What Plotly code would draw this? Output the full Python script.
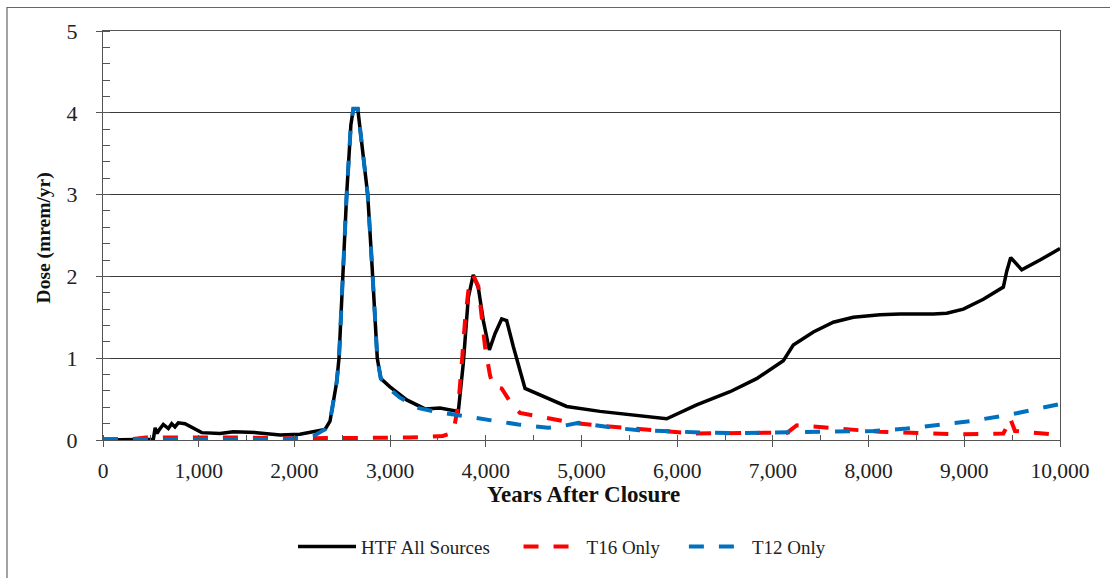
import plotly.graph_objects as go

# ---- data ----
htf_years = [0, 400, 510, 526, 545, 565, 590, 630, 683, 718, 752, 787, 857, 944,
             1031, 1223, 1362, 1606, 1850, 2058, 2200, 2320, 2372, 2407, 2442, 2466,
             2504, 2546, 2590, 2616, 2662, 2690, 2766, 2818, 2866, 2903, 2999, 3173,
             3365, 3521, 3678, 3713, 3765, 3817, 3869, 3922, 3974, 4037, 4096, 4166,
             4218, 4288, 4410, 4566, 4845, 5193, 5507, 5890, 6203, 6552, 6830, 7109,
             7213, 7423, 7631, 7840, 8119, 8328, 8676, 8816, 8990, 9199, 9408, 9443,
             9485, 9600, 9791, 10000]
htf_dose = [0, 0, 0.005, 0.01, 0.15, 0.08, 0.13, 0.19, 0.14, 0.2, 0.16, 0.21, 0.2, 0.14,
            0.09, 0.08, 0.1, 0.09, 0.06, 0.07, 0.1, 0.13, 0.23, 0.47, 0.71, 1.0,
            2.0, 3.0, 3.85, 4.05, 4.05, 3.75, 3.0, 2.0, 1.0, 0.75, 0.65, 0.49,
            0.38, 0.39, 0.36, 0.35, 0.94, 1.74, 2.02, 1.86, 1.46, 1.1, 1.3, 1.48,
            1.46, 1.14, 0.63, 0.55, 0.41, 0.35, 0.31, 0.26, 0.43, 0.59, 0.75, 0.97,
            1.16, 1.32, 1.44, 1.5, 1.53, 1.54, 1.54, 1.55, 1.6, 1.72, 1.87, 2.06,
            2.23, 2.08, 2.2, 2.34]

t16_years = [0, 300, 450, 550, 700, 850, 1000, 1500, 2000, 2500, 3000, 3200, 3400,
             3550, 3660, 3713, 3747, 3783, 3817, 3869, 3922, 3957, 3992, 4044, 4079,
             4166, 4253, 4357, 4531, 4705, 4914, 5227, 5600, 5950, 6203, 6725, 7150,
             7250, 7701, 8119, 8641, 8990, 9408, 9460, 9478, 9530, 10000]
t16_dose = [0.01, 0.01, 0.03, 0.03, 0.04, 0.04, 0.03, 0.03, 0.02, 0.02, 0.02, 0.03, 0.04,
            0.05, 0.09, 0.43, 0.9, 1.46, 1.82, 2.01, 1.88, 1.54, 1.14, 0.79, 0.65,
            0.63, 0.47, 0.33, 0.29, 0.25, 0.21, 0.17, 0.13, 0.1, 0.08, 0.08, 0.09,
            0.18, 0.14, 0.10, 0.08, 0.07, 0.08, 0.2, 0.27, 0.11, 0.06]

t12_years = [0, 1000, 1900, 2093, 2200, 2320, 2372, 2407, 2442, 2466, 2504, 2546, 2590,
             2616, 2662, 2690, 2766, 2818, 2866, 2903, 3000, 3100, 3300, 3500, 3680,
             3850, 4030, 4340, 4650, 4800, 4970, 5150, 5330, 5600, 5950, 6300, 6690,
             7074, 7597, 8050, 8397, 8816, 9060, 9478, 9756, 10000]
t12_dose = [0.01, 0.01, 0.01, 0.03, 0.05, 0.13, 0.23, 0.47, 0.71, 1.0, 2.0, 3.0, 3.85,
            4.05, 4.05, 3.75, 3.0, 2.0, 1.0, 0.75, 0.62, 0.52, 0.39, 0.34, 0.31,
            0.27, 0.24, 0.19, 0.15, 0.17, 0.21, 0.18, 0.15, 0.12, 0.1, 0.09, 0.085,
            0.09, 0.1, 0.11, 0.14, 0.2, 0.23, 0.31, 0.38, 0.44]

series_names = ["HTF All Sources", "T16 Only", "T12 Only"]
x_title = "Years After Closure"
y_title = "Dose (mrem/yr)"

FONT = "Liberation Serif"
NB = "&nbsp;"

fig = go.Figure()
fig.add_trace(go.Scatter(x=htf_years, y=htf_dose, mode="lines", name=series_names[0] + NB * 5,
                         line=dict(color="black", width=3.5)))
fig.add_trace(go.Scatter(x=t16_years, y=t16_dose, mode="lines", name=series_names[1] + NB * 4,
                         line=dict(color="#ff0000", width=4, dash="15px,15px")))
fig.add_trace(go.Scatter(x=t12_years, y=t12_dose, mode="lines", name=series_names[2],
                         line=dict(color="#0070c0", width=4, dash="15px,15px")))

W, H = 1110, 578
L, T = 103, 31
R = W - L - 957
B = H - T - 418
pw, ph = W - L - R, H - T - B

def px(xp):
    return (xp - L) / pw

def py(yp):
    return (H - B - yp) / ph

fig.update_layout(
    width=W, height=H,
    margin=dict(l=L, r=R, t=T, b=B, pad=0),
    paper_bgcolor="white", plot_bgcolor="white",
    font=dict(family=FONT, color="#222"),
    showlegend=True,
    legend=dict(orientation="h", x=px(293), xanchor="left", y=py(558), yanchor="middle",
                font=dict(family=FONT, size=19, color="#222"), bgcolor="rgba(0,0,0,0)",
                itemwidth=58, tracegroupgap=0),
    xaxis=dict(range=[0, 10000], dtick=1000, tickformat=",", showgrid=False,
               zeroline=False, showline=True, linecolor="#555", linewidth=1.2,
               mirror=True, ticks="outside", ticklen=6, tickcolor="#555",
               tickfont=dict(family=FONT, size=21.5, color="#222"),
               ticklabelstandoff=5,
               minor=dict(dtick=500, ticks="inside", ticklen=5, tickcolor="#555"),
               fixedrange=True),
    yaxis=dict(range=[0, 5], dtick=1, showgrid=True, gridcolor="#3a3a3a", gridwidth=1,
               zeroline=False, showline=True, linecolor="#555", linewidth=1.2,
               mirror=True, ticks="outside", ticklen=6, tickcolor="#555",
               tickfont=dict(family=FONT, size=22, color="#222"),
               ticklabelstandoff=14,
               minor=dict(dtick=0.2, ticks="inside", ticklen=7, tickcolor="#555",
                          showgrid=False),
               fixedrange=True),
    annotations=[
        dict(text="<b>" + x_title + "</b>", xref="paper", yref="paper",
             x=px(583), y=py(505), xanchor="center", yanchor="middle", showarrow=False,
             font=dict(family=FONT, size=23, color="#111")),
        dict(text="<b>" + y_title + "</b>", xref="paper", yref="paper",
             x=px(44), y=py(243), xanchor="center", yanchor="middle", showarrow=False,
             textangle=-90, font=dict(family=FONT, size=19.5, color="#111")),
    ],
    shapes=[
        dict(type="rect", xref="paper", yref="paper",
             x0=px(7), x1=px(1140), y0=py(620), y1=py(7),
             line=dict(color="#666", width=1.2), fillcolor="rgba(0,0,0,0)", layer="below"),
    ],
)

fig.write_html(
    "out.html",
    config={"responsive": False, "displayModeBar": False},
    post_script="document.body.style.margin='0';document.body.style.overflow='hidden';",
)
